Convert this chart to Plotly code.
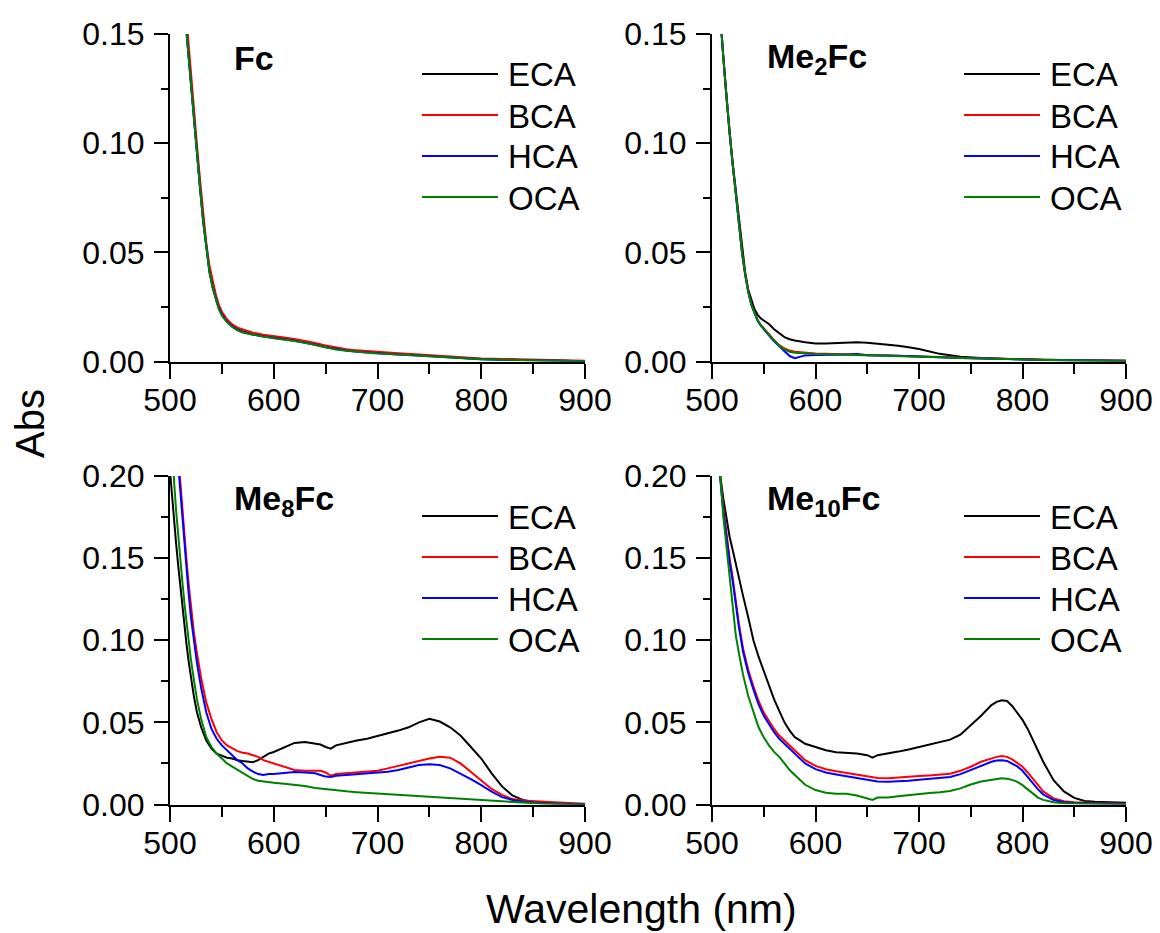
import plotly.graph_objects as go

# ---------------- data ----------------
series_names = ["ECA", "BCA", "HCA", "OCA"]
series_colors = ["#000000", "#ff0000", "#0000ff", "#008000"]
panel_titles = ["<b>Fc</b>", "<b>Me<sub>2</sub>Fc</b>", "<b>Me<sub>8</sub>Fc</b>", "<b>Me<sub>10</sub>Fc</b>"]
x_ticks = [500, 600, 700, 800, 900]

wl_top = [505, 508, 511, 514, 517, 520, 523, 526, 529, 532, 535, 538, 541, 544, 547, 550,
          555, 560, 565, 570, 575, 580, 590, 600, 610, 620, 630, 640, 650, 660, 670, 680,
          690, 700, 720, 740, 760, 780, 800, 820, 840, 860, 880, 900]

fc_eca = [0.32, 0.25, 0.20, 0.162, 0.145, 0.128, 0.111, 0.095, 0.080, 0.065, 0.052, 0.042, 0.035, 0.029,
          0.025, 0.022, 0.0185, 0.0163, 0.0148, 0.0138, 0.0132, 0.0126, 0.0118, 0.0110, 0.0105, 0.0098,
          0.0090, 0.0080, 0.0068, 0.0058, 0.0052, 0.0047, 0.0043, 0.0040, 0.0034, 0.0028, 0.0022, 0.0015,
          0.0011, 0.0009, 0.0007, 0.0005, 0.0003, 0.0001]
fc_bca = [0.33, 0.26, 0.21, 0.168, 0.150, 0.133, 0.115, 0.099, 0.083, 0.068, 0.054, 0.044, 0.037, 0.031,
          0.026, 0.0228, 0.0193, 0.0170, 0.0155, 0.0147, 0.0140, 0.0132, 0.0123, 0.0115, 0.0110, 0.0103,
          0.0095, 0.0085, 0.0073, 0.0063, 0.0056, 0.0051, 0.0047, 0.0044, 0.0038, 0.0032, 0.0025, 0.0018,
          0.0014, 0.0012, 0.0010, 0.0008, 0.0005, 0.0003]
fc_hca = [0.32, 0.25, 0.20, 0.161, 0.144, 0.127, 0.110, 0.094, 0.079, 0.064, 0.051, 0.041, 0.034, 0.029,
          0.0245, 0.0215, 0.0182, 0.0160, 0.0145, 0.0135, 0.0129, 0.0123, 0.0115, 0.0107, 0.0102, 0.0095,
          0.0087, 0.0077, 0.0065, 0.0056, 0.0050, 0.0045, 0.0041, 0.0038, 0.0032, 0.0027, 0.0021, 0.0014,
          0.0010, 0.0008, 0.0006, 0.0004, 0.0002, 0.0001]
fc_oca = [0.32, 0.25, 0.20, 0.161, 0.144, 0.127, 0.110, 0.094, 0.079, 0.064, 0.051, 0.041, 0.034, 0.0285,
          0.024, 0.021, 0.018, 0.0158, 0.0143, 0.0133, 0.0128, 0.0122, 0.0114, 0.0106, 0.0101, 0.0094,
          0.0086, 0.0076, 0.0064, 0.0055, 0.0049, 0.0044, 0.0041, 0.0037, 0.0032, 0.0026, 0.0020, 0.0013,
          0.0010, 0.0008, 0.0006, 0.0004, 0.0002, 0.0001]

me2_eca = [0.178, 0.156, 0.139, 0.122, 0.104, 0.091, 0.078, 0.064, 0.051, 0.041, 0.033, 0.028, 0.024, 0.0215,
           0.0198, 0.0188, 0.0172, 0.0148, 0.0128, 0.0112, 0.0102, 0.0096, 0.0088, 0.0083, 0.0082, 0.0085,
           0.0087, 0.0088, 0.0086, 0.0082, 0.0077, 0.0072, 0.0065, 0.0057, 0.0035, 0.0022, 0.0016, 0.0012,
           0.0010, 0.0008, 0.0006, 0.0004, 0.0003, 0.0002]
me2_bca = [0.178, 0.156, 0.139, 0.121, 0.104, 0.090, 0.077, 0.063, 0.050, 0.040, 0.032, 0.026, 0.022, 0.019,
           0.0168, 0.0150, 0.0125, 0.0098, 0.0075, 0.0060, 0.0050, 0.0045, 0.0040, 0.0037, 0.0035, 0.0033,
           0.0032, 0.0031, 0.0030, 0.0029, 0.0028, 0.0027, 0.0026, 0.0025, 0.0021, 0.0017, 0.0014, 0.0012,
           0.0010, 0.0008, 0.0007, 0.0006, 0.0005, 0.0004]
me2_hca = [0.178, 0.156, 0.139, 0.121, 0.104, 0.090, 0.077, 0.063, 0.050, 0.040, 0.032, 0.026, 0.022, 0.0188,
           0.0165, 0.0147, 0.0120, 0.0093, 0.0070, 0.0045, 0.0025, 0.0015, 0.0028, 0.0030, 0.0029, 0.0031,
           0.0032, 0.0034, 0.0029, 0.0030, 0.0028, 0.0026, 0.0025, 0.0024, 0.0020, 0.0016, 0.0013, 0.0011,
           0.0009, 0.0007, 0.0006, 0.0005, 0.0004, 0.0003]
me2_oca = [0.178, 0.156, 0.139, 0.121, 0.104, 0.090, 0.077, 0.063, 0.050, 0.040, 0.032, 0.026, 0.022, 0.019,
           0.0166, 0.0148, 0.0123, 0.0096, 0.0072, 0.0055, 0.0045, 0.0040, 0.0036, 0.0034, 0.0033, 0.0032,
           0.0031, 0.0031, 0.0030, 0.0029, 0.0028, 0.0027, 0.0026, 0.0024, 0.0020, 0.0016, 0.0013, 0.0011,
           0.0009, 0.0007, 0.0006, 0.0005, 0.0004, 0.0003]

wl_me8 = [500, 502, 504, 506, 508, 510, 512, 514, 516, 518, 520, 523, 526, 530, 535, 540, 545, 550, 555,
          560, 565, 570, 575, 580, 585, 590, 595, 600, 610, 620, 630, 640, 645, 650, 655, 660, 670, 680,
          690, 700, 710, 720, 730, 740, 750, 760, 770, 780, 790, 800, 810, 820, 830, 840, 850, 860, 870,
          880, 890, 900]
me8_eca = [0.203, 0.186, 0.172, 0.158, 0.145, 0.132, 0.120, 0.108, 0.097, 0.087, 0.078, 0.066, 0.056, 0.047,
           0.039, 0.034, 0.031, 0.0295, 0.0285, 0.028, 0.027, 0.0265, 0.026, 0.0258, 0.027, 0.029, 0.031,
           0.032, 0.035, 0.0375, 0.038, 0.037, 0.0365, 0.035, 0.034, 0.036, 0.0375, 0.039, 0.040, 0.0416,
           0.043, 0.045, 0.047, 0.050, 0.0522, 0.0505, 0.047, 0.042, 0.035, 0.028, 0.019, 0.011, 0.0055,
           0.0028, 0.0015, 0.0010, 0.0007, 0.0005, 0.0003, 0.0002]
me8_bca = [0.31, 0.28, 0.255, 0.233, 0.212, 0.195, 0.178, 0.163, 0.148, 0.134, 0.121, 0.105, 0.092, 0.077,
           0.062, 0.052, 0.044, 0.039, 0.036, 0.034, 0.0325, 0.0315, 0.031, 0.030, 0.029, 0.027, 0.026,
           0.025, 0.023, 0.021, 0.0205, 0.0205, 0.0205, 0.0195, 0.0175, 0.0185, 0.019, 0.0195, 0.020, 0.0205,
           0.022, 0.0235, 0.025, 0.0265, 0.028, 0.029, 0.0285, 0.025, 0.020, 0.0148, 0.0095, 0.0058, 0.0033,
           0.0024, 0.0019, 0.0016, 0.0013, 0.0010, 0.0008, 0.0005]
me8_hca = [0.30, 0.27, 0.245, 0.225, 0.206, 0.190, 0.173, 0.157, 0.142, 0.128, 0.115, 0.099, 0.086, 0.071,
           0.056, 0.046, 0.040, 0.036, 0.033, 0.030, 0.027, 0.025, 0.022, 0.020, 0.0185, 0.018, 0.0185,
           0.0185, 0.019, 0.0198, 0.0195, 0.019, 0.018, 0.017, 0.0168, 0.0175, 0.018, 0.0185, 0.019, 0.0193,
           0.020, 0.021, 0.0225, 0.024, 0.0245, 0.024, 0.022, 0.019, 0.0155, 0.0118, 0.0078, 0.0045, 0.0028,
           0.0018, 0.0012, 0.0008, 0.0006, 0.0004, 0.0002, 0.0001]
me8_oca = [0.24, 0.215, 0.196, 0.178, 0.162, 0.148, 0.135, 0.122, 0.110, 0.099, 0.089, 0.076, 0.064, 0.052,
           0.041, 0.035, 0.031, 0.028, 0.025, 0.023, 0.021, 0.019, 0.0172, 0.0155, 0.0145, 0.0140, 0.0135,
           0.0132, 0.0126, 0.0120, 0.0112, 0.0100, 0.0096, 0.0092, 0.0089, 0.0086, 0.0080, 0.0075, 0.0071,
           0.0067, 0.0063, 0.0059, 0.0055, 0.0051, 0.0048, 0.0044, 0.0040, 0.0035, 0.0030, 0.0026, 0.0021,
           0.0016, 0.0012, 0.0008, 0.0006, 0.0004, 0.0003, 0.0002, 0.0001, 0.0000]

wl_me10 = [505, 508, 511, 514, 517, 520, 523, 526, 530, 535, 540, 545, 550, 555, 560, 565, 570, 575, 580,
           585, 590, 600, 610, 620, 630, 640, 650, 655, 660, 670, 680, 690, 700, 710, 720, 730, 740, 750,
           760, 770, 775, 780, 785, 790, 795, 800, 805, 810, 815, 820, 830, 840, 850, 860, 870, 880, 890, 900]
me10_eca = [0.225, 0.200, 0.186, 0.174, 0.163, 0.155, 0.146, 0.138, 0.127, 0.114, 0.100, 0.090, 0.081, 0.073,
            0.064, 0.057, 0.050, 0.045, 0.041, 0.039, 0.037, 0.035, 0.033, 0.0318, 0.0315, 0.031, 0.030,
            0.0285, 0.030, 0.031, 0.0322, 0.0335, 0.035, 0.0363, 0.0376, 0.0395, 0.0425, 0.048, 0.054,
            0.0605, 0.0625, 0.0635, 0.063, 0.060, 0.056, 0.0515, 0.046, 0.039, 0.0325, 0.026, 0.0148, 0.008,
            0.004, 0.0022, 0.0016, 0.0013, 0.0011, 0.0010]
me10_bca = [0.23, 0.200, 0.180, 0.163, 0.150, 0.138, 0.123, 0.110, 0.095, 0.082, 0.072, 0.063, 0.056, 0.051,
            0.046, 0.042, 0.039, 0.036, 0.033, 0.030, 0.027, 0.0235, 0.0215, 0.0203, 0.0192, 0.0180, 0.0170,
            0.0165, 0.0162, 0.0160, 0.0163, 0.0168, 0.0173, 0.0177, 0.0182, 0.0187, 0.0205, 0.023, 0.026,
            0.0283, 0.029, 0.0295, 0.029, 0.0275, 0.0255, 0.023, 0.0195, 0.0155, 0.0115, 0.008, 0.0037,
            0.0020, 0.0013, 0.0010, 0.0008, 0.0007, 0.0006, 0.0005]
me10_hca = [0.228, 0.198, 0.178, 0.161, 0.148, 0.136, 0.121, 0.108, 0.093, 0.080, 0.070, 0.061, 0.054, 0.049,
            0.044, 0.040, 0.037, 0.034, 0.031, 0.028, 0.025, 0.0215, 0.0195, 0.0183, 0.0172, 0.0160, 0.0150,
            0.0145, 0.0140, 0.0138, 0.0140, 0.0145, 0.0150, 0.0155, 0.0160, 0.0167, 0.0185, 0.021, 0.0238,
            0.026, 0.0268, 0.027, 0.0265, 0.025, 0.0232, 0.0205, 0.017, 0.013, 0.0092, 0.0062, 0.0027,
            0.0014, 0.0009, 0.0007, 0.0005, 0.0004, 0.0003, 0.0003]
me10_oca = [0.225, 0.200, 0.175, 0.157, 0.138, 0.118, 0.103, 0.092, 0.079, 0.066, 0.056, 0.047, 0.041, 0.036,
            0.032, 0.029, 0.025, 0.021, 0.018, 0.0148, 0.012, 0.0088, 0.0072, 0.0065, 0.0066, 0.0055, 0.0040,
            0.0028, 0.0042, 0.0043, 0.0050, 0.0058, 0.0065, 0.0070, 0.0075, 0.0082, 0.0098, 0.0122, 0.0140,
            0.0150, 0.0158, 0.0160, 0.0157, 0.0150, 0.0138, 0.0118, 0.0092, 0.0065, 0.0042, 0.0028, 0.0014,
            0.0008, 0.0005, 0.0004, 0.0003, 0.0002, 0.0001, 0.0001]

panels = [
    (wl_top, [fc_eca, fc_bca, fc_hca, fc_oca]),
    (wl_top, [me2_eca, me2_bca, me2_hca, me2_oca]),
    (wl_me8, [me8_eca, me8_bca, me8_hca, me8_oca]),
    (wl_me10, [me10_eca, me10_bca, me10_hca, me10_oca]),
]
y_ranges = [[0, 0.15], [0, 0.15], [0, 0.20], [0, 0.20]]

# ---------------- layout geometry (pixels) ----------------
W, H = 1160, 933
FONT = "Liberation Sans, Arial, sans-serif"
def fx(p):
    return p / W
def fy(p):
    return 1 - p / H

x_px = [(170, 585), (712, 1126), (170, 585), (712, 1126)]
y_px = [(34, 361.5), (34, 361.5), (476, 804.5), (476, 804.5)]
title_x = [232, 765, 232, 765]

fig = go.Figure()
layout = dict(
    template="none",
    width=W, height=H, margin=dict(l=0, r=0, t=0, b=0, pad=0, autoexpand=False),
    paper_bgcolor="white", plot_bgcolor="white", showlegend=False,
    font=dict(family=FONT, color="black"),
)
shapes, annotations = [], []

for i, (wl, ys) in enumerate(panels):
    n = "" if i == 0 else str(i + 1)
    for name, color, y in zip(series_names, series_colors, ys):
        fig.add_trace(go.Scatter(x=wl, y=y, mode="lines", name=name,
                                 line=dict(color=color, width=2),
                                 xaxis="x" + n, yaxis="y" + n))
    x0, x1 = x_px[i]
    y0, y1 = y_px[i]
    layout["xaxis" + n] = dict(
        domain=[fx(x0), fx(x1)], anchor="y" + n, range=[500, 900], automargin=False,
        tickvals=x_ticks, ticks="outside", ticklen=15, tickwidth=2, tickcolor="black",
        ticklabelstandoff=-6,
        showline=True, linewidth=2, linecolor="black", showgrid=False, zeroline=False,
        tickfont=dict(size=32, family=FONT, color="black"),
        minor=dict(dtick=50, tick0=500, ticks="outside", ticklen=10, tickwidth=2,
                   tickcolor="black", showgrid=False),
    )
    layout["yaxis" + n] = dict(
        domain=[fy(y1), fy(y0)], anchor="x" + n, range=y_ranges[i], automargin=False,
        dtick=0.05, tick0=0, tickformat=".2f", ticks="outside", ticklen=14, tickwidth=2,
        ticklabelstandoff=3,
        tickcolor="black", showline=True, linewidth=2, linecolor="black", showgrid=False,
        zeroline=False, tickfont=dict(size=32, family=FONT, color="black"),
        minor=dict(dtick=0.025, tick0=0, ticks="outside", ticklen=7, tickwidth=2,
                   tickcolor="black", showgrid=False),
    )
    # panel label
    annotations.append(dict(text=panel_titles[i], xref="paper", yref="paper",
                            x=fx(title_x[i]), y=fy(y0 + 24), xanchor="left", yanchor="middle",
                            showarrow=False, font=dict(size=34, family=FONT, color="black")))
    # legend
    for k, (name, color) in enumerate(zip(series_names, series_colors)):
        ry = y0 + 40 + 41 * k
        shapes.append(dict(type="line", xref="paper", yref="paper",
                           x0=fx(x0 + 252), x1=fx(x0 + 328), y0=fy(ry), y1=fy(ry),
                           line=dict(color=color, width=2)))
        annotations.append(dict(text=name, xref="paper", yref="paper",
                                x=fx(x0 + 336), y=fy(ry + 1), xanchor="left", yanchor="middle",
                                showarrow=False, font=dict(size=33, family=FONT, color="black")))

annotations.append(dict(text="Abs", xref="paper", yref="paper", x=fx(30), y=fy(424),
                        xanchor="center", yanchor="middle", textangle=-90, showarrow=False,
                        font=dict(size=40, family=FONT, color="black")))
annotations.append(dict(text="Wavelength (nm)", xref="paper", yref="paper", x=fx(641), y=fy(909),
                        xanchor="center", yanchor="middle", showarrow=False,
                        font=dict(size=41, family=FONT, color="black")))

layout["shapes"] = shapes
layout["annotations"] = annotations
fig.update_layout(**layout)
fig.write_html("out.html")
